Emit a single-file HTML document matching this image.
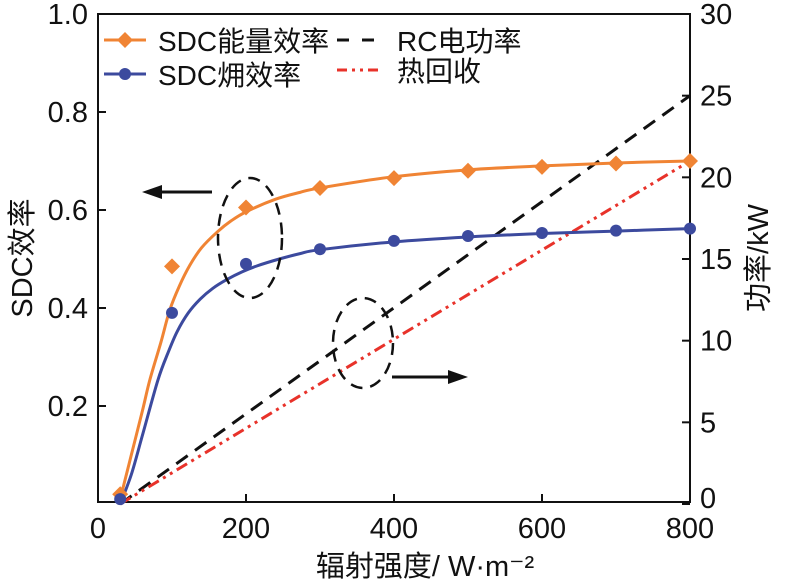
<!DOCTYPE html>
<html><head><meta charset="utf-8"><style>
body{margin:0;background:#fff}
text{font-family:"Liberation Sans","Noto Sans CJK SC",sans-serif;fill:#111}
</style></head><body>
<svg id="c" width="789" height="583" viewBox="0 0 789 583" xmlns="http://www.w3.org/2000/svg"></svg>
<script>
const xTicks=[0,200,400,600,800];
const yLeftTicks=[0.2,0.4,0.6,0.8,1.0];
const yLeftLabels=["0.2","0.4","0.6","0.8","1.0"];
const yRightTicks=[0,5,10,15,20,25,30];
const markerX=[30,100,200,300,400,500,600,700,800];
const energyMarkers=[0.02,0.485,0.605,0.645,0.665,0.68,0.688,0.695,0.70];
const exergyMarkers=[0.01,0.39,0.49,0.52,0.537,0.547,0.553,0.558,0.562];
const energyFitX=[30,45,60,70,85,97,110,124,140,161,180,201,240,273,300,400,500,600,700,800];
const energyFit=[0.01,0.10,0.19,0.253,0.33,0.396,0.445,0.487,0.523,0.555,0.578,0.597,0.622,0.636,0.645,0.668,0.682,0.69,0.696,0.70];
const exergyFitX=[30,45,60,81,95,107,122,138,155,174,195,215,245,273,300,400,500,600,700,800];
const exergyFit=[0.0,0.06,0.14,0.253,0.31,0.352,0.39,0.418,0.44,0.458,0.474,0.486,0.5,0.511,0.519,0.535,0.545,0.552,0.557,0.562];
const lineX=[30,800];
const rcPower=[0,25];
const heatRec=[0,21];
const X0=98,X1=690,YB=504,YT=14;
const sx=v=>X0+(X1-X0)*v/800;
const syL=v=>YB-(YB-YT)*v;
const syR=v=>YB-(YB-YT)*v/30;
const svg=document.getElementById('c');
const NS='http://www.w3.org/2000/svg';
function mk(tag,attrs,name,parent){const e=document.createElementNS(NS,tag);for(const k in attrs)e.setAttribute(k,attrs[k]);


(parent||svg).appendChild(e);return e;}
function smooth(p){let d='M'+p[0][0]+','+p[0][1];
for(let i=0;i<p.length-1;i++){const p0=p[Math.max(i-1,0)],p1=p[i],p2=p[i+1],p3=p[Math.min(i+2,p.length-1)];
const c1x=p1[0]+(p2[0]-p0[0])/6,c1y=p1[1]+(p2[1]-p0[1])/6,c2x=p2[0]-(p3[0]-p1[0])/6,c2y=p2[1]-(p3[1]-p1[1])/6;
d+=` C${c1x},${c1y} ${c2x},${c2y} ${p2[0]},${p2[1]}`;}return d;}
mk('rect',{x:X0,y:YT,width:X1-X0,height:YB-2-YT,fill:'none',stroke:'#111','stroke-width':2},'plot-frame');
xTicks.forEach(t=>{const x=sx(t);mk('line',{x1:x,x2:x,y1:502,y2:494,stroke:'#111','stroke-width':2},'x-tick');
const tx=mk('text',{x:x,y:538,'text-anchor':'middle','font-size':29},'x-tick-label');tx.textContent=t;});
yLeftTicks.forEach((t,i)=>{const y=syL(t);mk('line',{x1:X0,x2:X0+8,y1:y,y2:y,stroke:'#111','stroke-width':2},'y-left-tick');
const tx=mk('text',{x:88,y:y+10,'text-anchor':'end','font-size':29},'y-left-tick-label');tx.textContent=yLeftLabels[i];});
yRightTicks.forEach(t=>{const y=syR(t);mk('line',{x1:X1,x2:X1-8,y1:y,y2:y,stroke:'#111','stroke-width':2},'y-right-tick');
const tx=mk('text',{x:700,y:Math.min(y+10,508),'font-size':29},'y-right-tick-label');tx.textContent=t;});
let t=mk('text',{x:425,y:576,'text-anchor':'middle','font-size':29},'x-axis-title');t.textContent='辐射强度/ W·m⁻²';
t=mk('text',{x:0,y:0,'text-anchor':'middle','font-size':29,transform:'translate(32,258) rotate(-90)'},'y-left-axis-title');t.textContent='SDC效率';
t=mk('text',{x:0,y:0,'text-anchor':'middle','font-size':29,transform:'translate(768,258) rotate(-90)'},'y-right-axis-title');t.textContent='功率/kW';
mk('polyline',{points:lineX.map((x,i)=>sx(x)+','+syR(rcPower[i])).join(' '),fill:'none',stroke:'#111','stroke-width':3,'stroke-dasharray':'14 9'},'rc-power-line');
mk('polyline',{points:lineX.map((x,i)=>sx(x)+','+syR(heatRec[i])).join(' '),fill:'none',stroke:'#e8322a','stroke-width':3,'stroke-dasharray':'12 5 3 5 3 5'},'heat-recovery-line');
mk('path',{d:smooth(energyFitX.map((x,i)=>[sx(x),syL(energyFit[i])])),fill:'none',stroke:'#f08434','stroke-width':3},'energy-efficiency-line');
mk('path',{d:smooth(exergyFitX.map((x,i)=>[sx(x),syL(exergyFit[i])])),fill:'none',stroke:'#3c4a9e','stroke-width':3},'exergy-efficiency-line');
markerX.forEach((x,i)=>{const cx=sx(x),cy=syL(energyMarkers[i]);
mk('polygon',{points:`${cx},${cy-8} ${cx+8},${cy} ${cx},${cy+8} ${cx-8},${cy}`,fill:'#f08434'},'energy-marker');
mk('circle',{cx:sx(x),cy:syL(exergyMarkers[i]),r:6,fill:'#3c4a9e'},'exergy-marker');});
mk('ellipse',{cx:250,cy:238,rx:32,ry:60,fill:'none',stroke:'#111','stroke-width':2.5,'stroke-dasharray':'12 8'},'left-ellipse');
mk('ellipse',{cx:363,cy:343,rx:30,ry:45,fill:'none',stroke:'#111','stroke-width':2.5,'stroke-dasharray':'12 8'},'right-ellipse');
mk('line',{x1:212,x2:158,y1:192,y2:192,stroke:'#111','stroke-width':3},'left-arrow-shaft');
mk('polygon',{points:'142,192 162,185 162,199',fill:'#111'},'left-arrow-head');
mk('line',{x1:392,x2:452,y1:377,y2:377,stroke:'#111','stroke-width':3},'right-arrow-shaft');
mk('polygon',{points:'468,377 448,370 448,384',fill:'#111'},'right-arrow-head');
const lg=mk('g',{},'legend');
mk('line',{x1:104,x2:146,y1:40,y2:40,stroke:'#f08434','stroke-width':3},'legend-energy-line',lg);
mk('polygon',{points:'125,32 133,40 125,48 117,40',fill:'#f08434'},'legend-energy-marker',lg);
t=mk('text',{x:158,y:51,'font-size':28},'legend-energy-label',lg);t.textContent='SDC能量效率';
mk('line',{x1:104,x2:146,y1:74,y2:74,stroke:'#3c4a9e','stroke-width':3},'legend-exergy-line',lg);
mk('circle',{cx:125,cy:74,r:6,fill:'#3c4a9e'},'legend-exergy-marker',lg);
t=mk('text',{x:158,y:85,'font-size':28},'legend-exergy-label',lg);t.textContent='SDC㶲效率';
mk('line',{x1:337,x2:374,y1:40,y2:40,stroke:'#111','stroke-width':3,'stroke-dasharray':'12 13'},'legend-rc-line',lg);
t=mk('text',{x:397,y:51,'font-size':28},'legend-rc-label',lg);t.textContent='RC电功率';
mk('line',{x1:337,x2:378,y1:70,y2:70,stroke:'#e8322a','stroke-width':3,'stroke-dasharray':'10 5 3 5 3 5'},'legend-heat-line',lg);
t=mk('text',{x:397,y:81,'font-size':28},'legend-heat-label',lg);t.textContent='热回收';
</script>
</body></html>
